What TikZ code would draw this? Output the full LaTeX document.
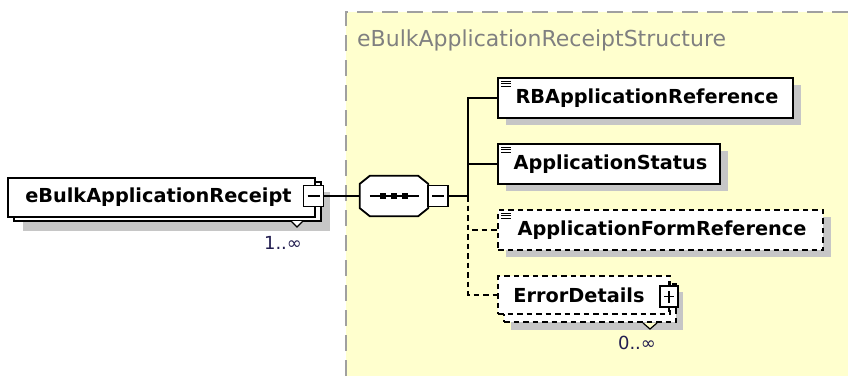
\documentclass[tikz,border=0pt]{standalone}
\usepackage{fontspec}
\setmainfont{DejaVu Sans}
\usetikzlibrary{shadows,positioning}
\definecolor{XsdYellow}{RGB}{255,255,206}
\definecolor{XsdFrame}{RGB}{160,160,160}
\definecolor{XsdTitle}{RGB}{128,128,128}
\definecolor{XsdShadow}{RGB}{198,198,198}
\definecolor{XsdCount}{RGB}{35,30,80}
\newcommand{\elemfont}{\fontsize{19.3}{23}\selectfont\bfseries}
\newcommand{\seqoutline}[1]{([shift={(10,0)}]#1.north west) -- ([shift={(-10,0)}]#1.north east) -- ([shift={(0,8)}]#1.north east)
   -- ([shift={(0,-8)}]#1.south east) -- ([shift={(-10,0)}]#1.south east) -- ([shift={(10,0)}]#1.south west)
   -- ([shift={(0,-8)}]#1.south west) -- ([shift={(0,8)}]#1.north west) -- cycle}

\begin{document}
\begin{tikzpicture}[x=1pt,y=-1pt,
  elem/.style={draw,line width=1.8pt,fill=white,rectangle,inner sep=0pt,minimum height=40pt,font=\elemfont},
  shad/.style={drop shadow={shadow xshift=8pt,shadow yshift=-7pt,fill=XsdShadow,opacity=1}},
  opt/.style={dash pattern=on 5.5pt off 4pt},
  tog/.style={draw,line width=1.5pt,fill=white,rectangle,inner sep=0pt,minimum width=20pt,minimum height=21pt},
  conn/.style={line width=1.6pt},
  count/.style={text=XsdCount,font=\fontsize{18}{21}\selectfont,inner sep=0pt}]
\useasboundingbox (0,0) rectangle (848,376);
% structure area
\fill[XsdYellow] (346,12) rectangle (848,376);
\draw[XsdFrame,line width=2pt,dash pattern=on 16pt off 9pt] (346,376) -- (346,12) -- (848,12);
\node[anchor=west,text=XsdTitle,font=\fontsize{22}{26}\selectfont,inner sep=0pt] (title) at (357,40) {eBulkApplicationReceiptStructure};

% root element
\node[elem,minimum width=307pt,minimum height=39pt,anchor=north west,
  drop shadow={shadow xshift=15pt,shadow yshift=-14pt,fill=XsdShadow,opacity=1},
  copy shadow={shadow xshift=6pt,shadow yshift=-4pt}] (rcpt) at (7,177) {eBulkApplicationReceipt\hspace*{6pt}};
\draw[conn,line width=1.2pt,fill=white] (291,221) -- (297,227) -- (303,221);
\node[count] (rcptn) at (283,243) {1..∞};
\node[tog] (rcptm) at (313.5,196) {};
\draw[line width=1.5pt] ([xshift=-6pt]rcptm.center) -- ([xshift=6pt]rcptm.center);

% sequence
\node[minimum width=68pt,minimum height=40pt,inner sep=0pt] (seq) at (394,196) {};
\begin{scope}[shift={(8,9)}]
   \fill[XsdShadow] \seqoutline{seq};
\end{scope}
\draw[line width=1.8pt,fill=white] \seqoutline{seq};
\draw[line width=1.5pt] ([xshift=10pt]seq.west) -- ([xshift=-9pt]seq.east);
\foreach \dx in {-11,0,11} {
   \fill ([xshift=\dx pt]seq.center) ++(-2.7,-2.7) rectangle ++(5.4,5.4);
}
\node[tog] (seqm) at (438,196) {};
\draw[line width=1.5pt] ([xshift=-6pt]seqm.center) -- ([xshift=6pt]seqm.center);
\coordinate (bus) at (468,196);

% children
\node[elem,shad,minimum width=295pt] (rbref) at (645.5,98) {\hspace*{3pt}RBApplicationReference};
\node[elem,shad,minimum width=222pt] (status) at (609,164) {\hspace*{3pt}ApplicationStatus};
\node[elem,shad,opt,minimum width=325pt] (formref) at (660.5,230) {\hspace*{3pt}ApplicationFormReference};
\node[elem,opt,minimum width=172pt,minimum height=38pt,
  drop shadow={shadow xshift=13pt,shadow yshift=-16pt,fill=XsdShadow,opacity=1},
  copy shadow={shadow xshift=6pt,shadow yshift=-8pt}] (errdet) at (584,295) {ErrorDetails\hspace*{10pt}};
\draw[conn,line width=1.2pt,fill=XsdYellow] (643,323) -- (650,329) -- (657,323);
\node[count] (errn) at (637,343) {0..∞};
\node[tog,minimum width=18pt] (errp) at (669,296.5) {};
\draw[line width=1.5pt] ([xshift=-5pt]errp.center) -- ([xshift=5pt]errp.center)
   ([yshift=-6pt]errp.center) -- ([yshift=6pt]errp.center);
\draw[line width=1.5pt] (errp.north) -- ++(0,-4) (errp.south) -- ++(0,4);
\foreach \el in {rbref,status,formref} {
   \foreach \dy in {4,6.5,9} {
      \draw[line width=1pt] ([shift={(4,\dy)}]\el.north west) -- ++(10,0);
   }
}

% connectors
\draw[conn] (rcptm.east) -- (seq.west);
\draw[conn] (seqm.east) -- (bus);
\draw[conn] (bus) |- (rbref.west);
\draw[conn] (bus) |- (status.west);
\draw[conn,opt] (bus) |- (formref.west);
\draw[conn,opt] (bus) |- (errdet.west);
\end{tikzpicture}
\end{document}
